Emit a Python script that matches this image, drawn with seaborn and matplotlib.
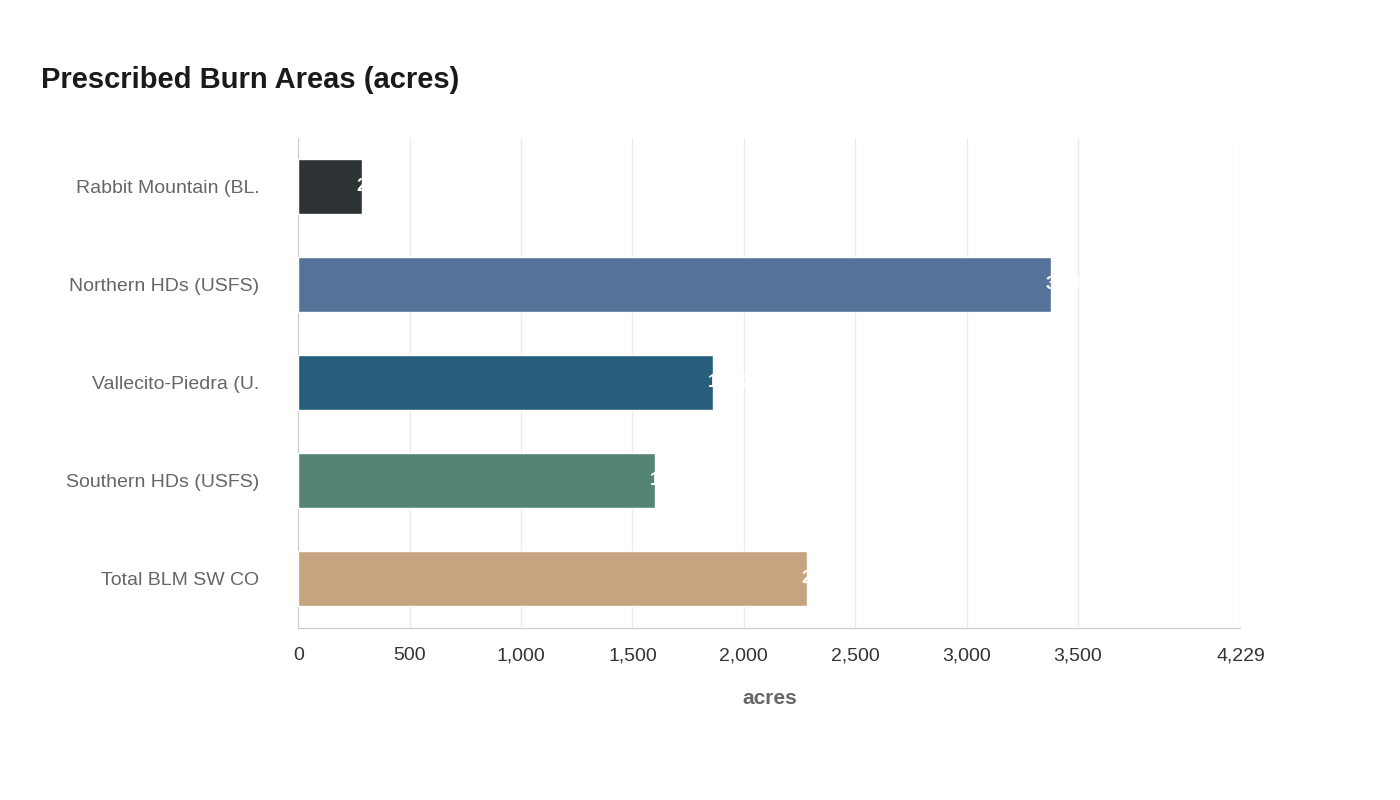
import pandas as pd
import matplotlib.pyplot as plt
import seaborn as sns

categories = ['Rabbit Mountain (BL.', 'Northern HDs (USFS)', 'Vallecito-Piedra (U.',
              'Southern HDs (USFS)', 'Total BLM SW CO']
acres = [287, 3381, 1863, 1603, 2285]
colors = ['#2c3336', '#4a70a4', '#186289', '#4d8c7a', '#d3a474']
ticks = [0, 500, 1000, 1500, 2000, 2500, 3000, 3500, 4229]

df = pd.DataFrame({'area': categories, 'acres': acres})

sns.set_style('white')
plt.rcParams['font.family'] = ['Liberation Sans', 'DejaVu Sans']

fig = plt.figure(figsize=(14, 8), dpi=100)
ax = fig.add_axes([0.213, 0.215, 0.673, 0.613])

sns.barplot(data=df, y='area', x='acres', hue='area', palette=colors,
            legend=False, width=0.56, ax=ax, zorder=3)

for i, v in enumerate(acres):
    ax.annotate(f'{v:,}', (v, i), xytext=(-4, 0), textcoords='offset points',
                ha='left', va='center', color='white', fontsize=13,
                fontweight='bold', zorder=4)

ax.set_xlim(0, 4229)
ax.set_xticks(ticks)
ax.set_xticklabels([f'{t:,}' for t in ticks], fontsize=14, color='#333333')
ax.tick_params(axis='x', length=0, pad=14)
ax.tick_params(axis='y', length=0, pad=28, labelsize=14, labelcolor='#666666')
ax.grid(axis='x', color='#ebebeb', linewidth=1, zorder=0)
for s in ['top', 'right']:
    ax.spines[s].set_visible(False)
for s in ['left', 'bottom']:
    ax.spines[s].set_color('#cccccc')
ax.set_ylabel('')
ax.set_xlabel('acres', fontsize=15, fontweight='bold', color='#666666', labelpad=18)

fig.text(0.029, 0.9, 'Prescribed Burn Areas (acres)', fontsize=21,
         fontweight='bold', color='#1a1a1a', va='center')

fig.savefig('out.png', dpi=100)
